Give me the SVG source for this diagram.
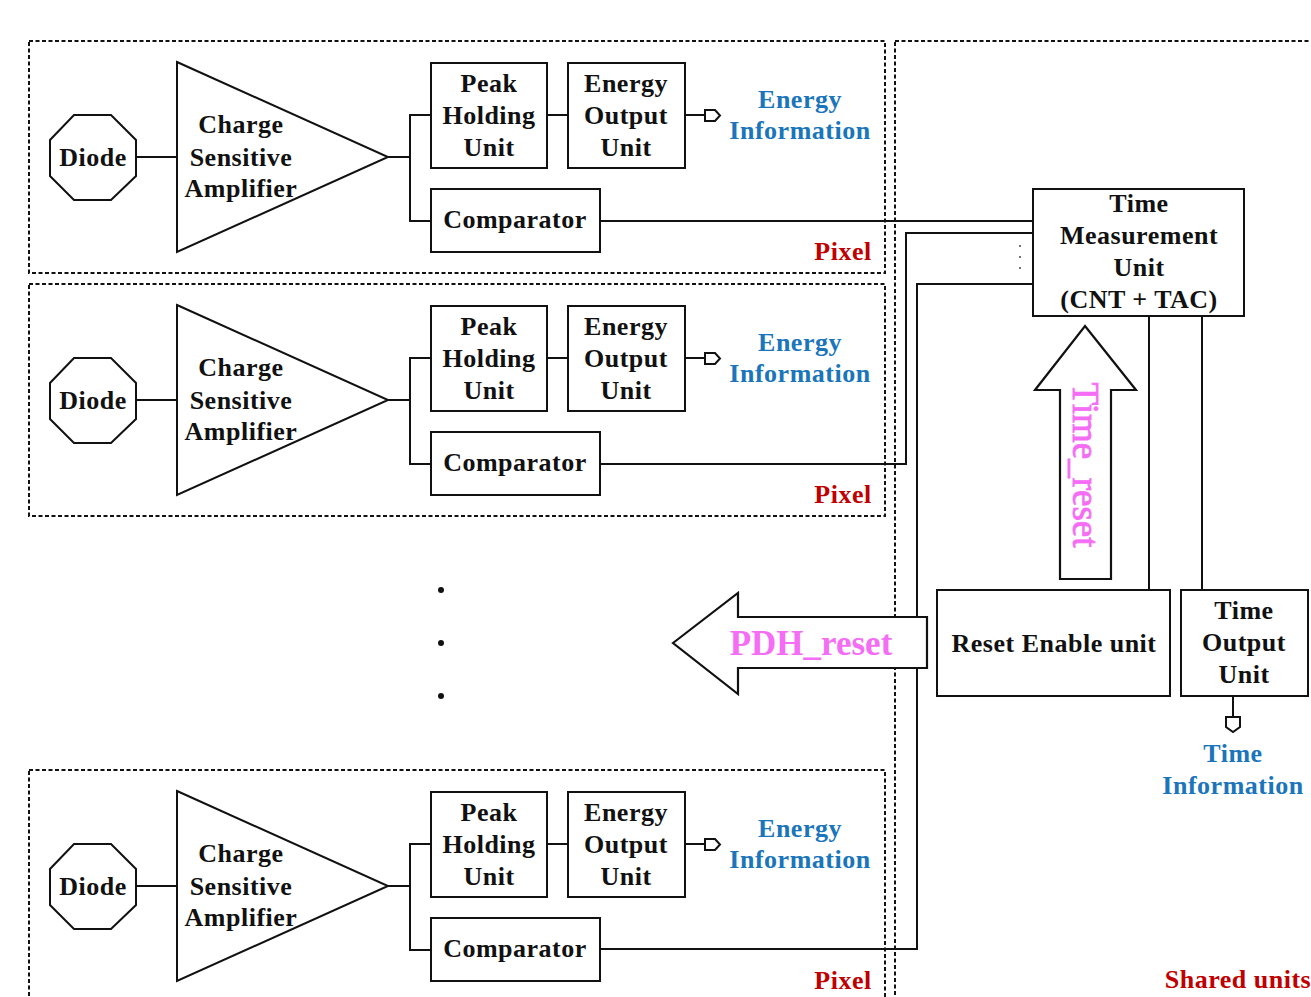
<svg xmlns="http://www.w3.org/2000/svg" width="1311" height="997" viewBox="0 0 1311 997">
<style>
.t{font-family:"Liberation Serif","Times New Roman",serif;font-weight:bold;font-size:26px;fill:#111;text-anchor:middle;letter-spacing:0.5px}
.blue{fill:#1B75BB}
.red{fill:#C00000}
.box{fill:#fff;stroke:#111;stroke-width:2}
.ln{fill:none;stroke:#111;stroke-width:2}
.dash{fill:none;stroke:#111;stroke-width:2;stroke-dasharray:4 2.5}
.arr{fill:#fff;stroke:#111;stroke-width:2.2;stroke-linejoin:miter}
.mag{font-family:"Liberation Serif","Times New Roman",serif;fill:#F56CF5;text-anchor:middle}
</style>
<defs>
<g id="pixel">
<rect class="dash" x="29" y="41" width="856" height="232"/>
<line class="ln" x1="136" y1="157" x2="177" y2="157"/>
<polyline class="ln" points="388,157 410,157"/>
<polyline class="ln" points="431,115 410,115 410,221 431,221"/>
<line class="ln" x1="547" y1="115" x2="568" y2="115"/>
<line class="ln" x1="685" y1="115" x2="705" y2="115"/>
<polygon class="box" points="705,110 715,110 720,115.5 715,121 705,121"/>
<polygon class="box" points="74,115 111,115 136,140 136,176 111,200 74,200 50,176 50,140"/>
<text class="t" x="93" y="166">Diode</text>
<polygon class="box" points="177,62 388,157 177,252"/>
<text class="t" x="241" y="133">Charge</text>
<text class="t" x="241" y="166">Sensitive</text>
<text class="t" x="241" y="197">Amplifier</text>
<rect class="box" x="431" y="63" width="116" height="105"/>
<text class="t" x="489" y="92">Peak</text>
<text class="t" x="489" y="124">Holding</text>
<text class="t" x="489" y="156">Unit</text>
<rect class="box" x="568" y="63" width="117" height="105"/>
<text class="t" x="626" y="92">Energy</text>
<text class="t" x="626" y="124">Output</text>
<text class="t" x="626" y="156">Unit</text>
<rect class="box" x="431" y="189" width="169" height="63"/>
<text class="t" x="515" y="228">Comparator</text>
<text class="t blue" x="800" y="108">Energy</text>
<text class="t blue" x="800" y="139">Information</text>
<text class="t red" x="843" y="260">Pixel</text>
</g>
</defs>

<g id="connectors">
<polyline class="ln" points="600,221 1033,221"/>
<polyline class="ln" points="600,464 906,464 906,233 1033,233"/>
<polyline class="ln" points="600,949 917,949 917,284 1033,284"/>
<line class="ln" x1="1149" y1="316" x2="1149" y2="590"/>
<line class="ln" x1="1202" y1="316" x2="1202" y2="590"/>
<line class="ln" x1="1233" y1="696" x2="1233" y2="717"/>
<polygon class="box" points="1226,717 1240,717 1240,727 1233,732 1226,727"/>
</g>

<g id="pixel1"><use href="#pixel"/></g>
<g id="pixel2"><use href="#pixel" transform="translate(0,243)"/></g>
<g id="pixel3"><use href="#pixel" transform="translate(0,729)"/></g>

<g id="shared-frame">
<rect class="dash" x="895" y="41" width="430" height="970"/>
<text class="t red" x="1238" y="988">Shared units</text>
</g>

<g id="ellipsis">
<circle cx="441" cy="590" r="3" fill="#111"/>
<circle cx="441" cy="643" r="3" fill="#111"/>
<circle cx="441" cy="696" r="3" fill="#111"/>
<circle cx="1020" cy="246" r="0.9" fill="#333"/>
<circle cx="1020" cy="257" r="0.9" fill="#333"/>
<circle cx="1020" cy="268" r="0.9" fill="#333"/>
</g>

<g id="tmu">
<rect class="box" x="1033" y="189" width="211" height="127"/>
<text class="t" x="1139" y="212">Time</text>
<text class="t" x="1139" y="244">Measurement</text>
<text class="t" x="1139" y="276">Unit</text>
<text class="t" x="1139" y="308">(CNT + TAC)</text>
</g>

<g id="reset-enable">
<rect class="box" x="937" y="590" width="233" height="106"/>
<text class="t" x="1054" y="652">Reset Enable unit</text>
</g>

<g id="time-output">
<rect class="box" x="1181" y="590" width="127" height="106"/>
<text class="t" x="1244" y="619">Time</text>
<text class="t" x="1244" y="651">Output</text>
<text class="t" x="1244" y="683">Unit</text>
<text class="t blue" x="1233" y="762">Time</text>
<text class="t blue" x="1233" y="794">Information</text>
</g>

<g id="time-reset">
<polygon class="arr" points="1085,326 1136,390 1111,390 1111,579 1060,579 1060,390 1035,390"/>
<text class="mag" font-size="37" stroke="#F56CF5" stroke-width="0.8" transform="translate(1073,465) rotate(90)" x="0" y="0">Time_reset</text>
</g>

<g id="pdh-reset">
<polygon class="arr" points="673,643 738,593 738,617 927,617 927,668 738,668 738,694"/>
<text class="mag" font-weight="bold" font-size="35" x="811" y="655">PDH_reset</text>
</g>
</svg>
